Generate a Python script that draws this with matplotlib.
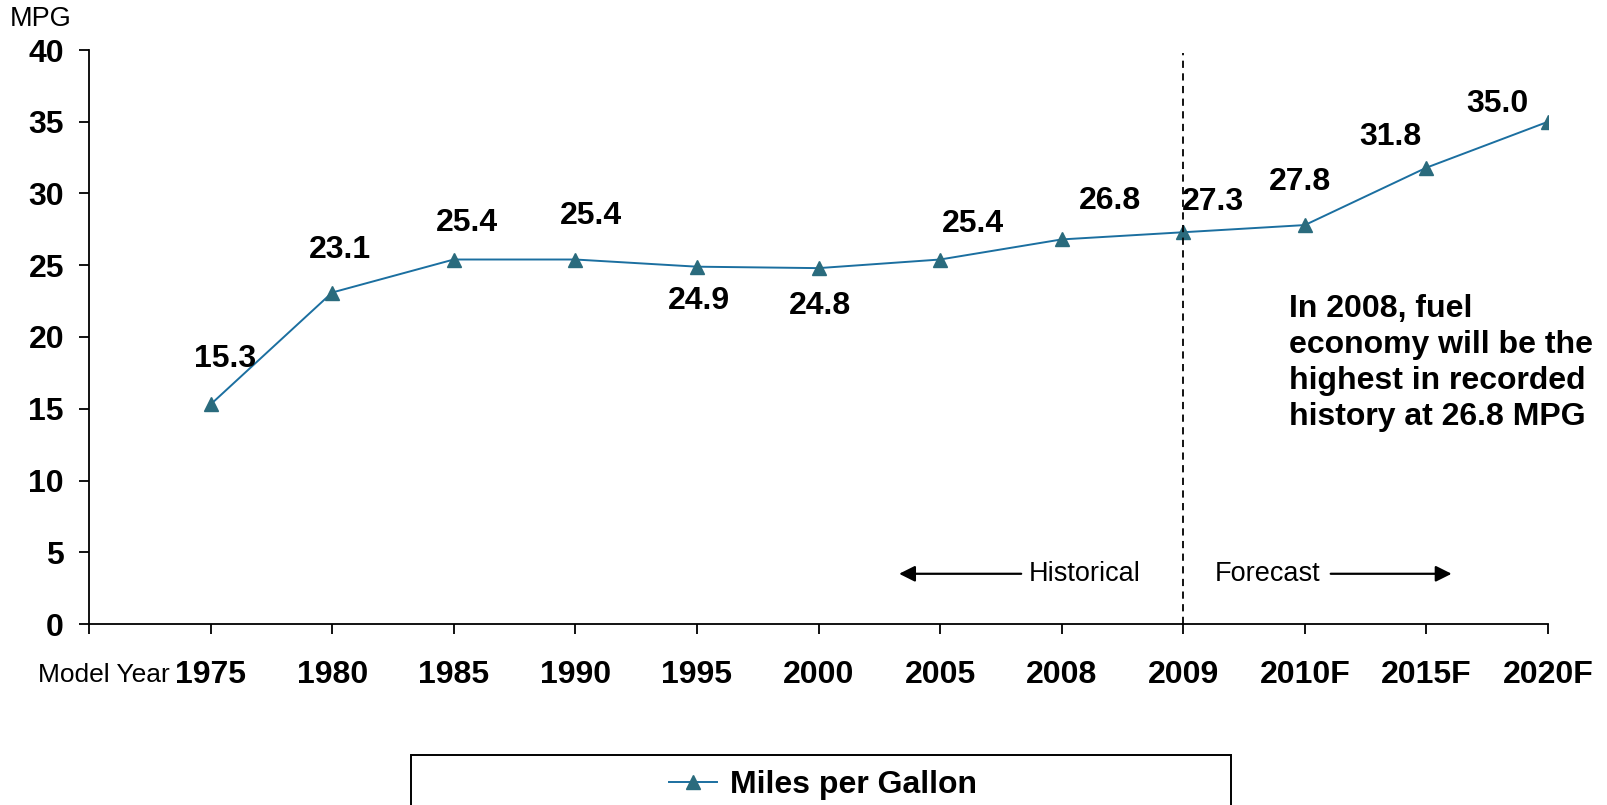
import matplotlib
matplotlib.use("Agg")
import matplotlib.pyplot as plt
from matplotlib.patches import Rectangle

plt.rcParams['font.family'] = ['Liberation Sans', 'DejaVu Sans']

# data
years = ["1975", "1980", "1985", "1990", "1995", "2000", "2005", "2008",
         "2009", "2010F", "2015F", "2020F"]
mpg = [15.3, 23.1, 25.4, 25.4, 24.9, 24.8, 25.4, 26.8, 27.3, 27.8, 31.8, 35.0]

# label offsets in pixels (dx, dy; dy up)
label_off = [(14, 45), (8, 43), (13, 37), (16, 44), (2, -34), (2, -38),
             (33, 36), (48, 38), (30, 30), (-5, 43), (-36, 31), (-51, 18)]

line_col = '#1B6FA0'
mark_col = '#2A6B7D'
big = 23

fig = plt.figure(figsize=(16.07, 8.05), dpi=100)
ax = fig.add_axes([89 / 1607, 1 - 624 / 805, (1548 - 89) / 1607, (624 - 50) / 805])

x = list(range(len(years)))
ax.plot(x, mpg, '-', color=line_col, lw=1.4, marker='^', markersize=10,
        markerfacecolor=mark_col, markeredgecolor=mark_col, label='Miles per Gallon')

for xi, v, (dx, dy) in zip(x, mpg, label_off):
    ax.annotate(f"{v:.1f}", (xi, v), xytext=(dx, dy), textcoords='offset pixels',
                ha='center', va='center', fontsize=big, fontweight='bold')

ax.set_xlim(-1, 11)
ax.set_ylim(0, 40)
ax.set_yticks(range(0, 41, 5))
ax.set_xticks(range(-1, 12))
ax.set_xticklabels([""] + years)
ax.tick_params(axis='both', length=7, width=1.3, direction='out', labelsize=big)
ax.tick_params(axis='x', pad=19)
ax.tick_params(axis='y', pad=11)
for lab in ax.get_xticklabels() + ax.get_yticklabels():
    lab.set_fontweight('bold')

for s in ['top', 'right']:
    ax.spines[s].set_visible(False)
for s in ['left', 'bottom']:
    ax.spines[s].set_linewidth(1.3)

# divider between historical and forecast
ax.axvline(8, ymin=0, ymax=0.995, color='black', lw=1.3, linestyle=(0, (4, 3)))

ax.text(8.87, 18.2, "In 2008, fuel\neconomy will be the\nhighest in recorded\nhistory at 26.8 MPG",
        ha='left', va='center', fontsize=big, fontweight='bold', linespacing=1.26)

arrow_kw = dict(arrowstyle='-|>', color='black', lw=1.6, mutation_scale=24)
ax.annotate("", xy=(5.64, 3.5), xytext=(6.69, 3.5), arrowprops=arrow_kw)
ax.text(7.19, 3.5, "Historical", ha='center', va='center', fontsize=19.5)
ax.text(8.69, 3.5, "Forecast", ha='center', va='center', fontsize=19.5)
ax.annotate("", xy=(10.23, 3.5), xytext=(9.19, 3.5), arrowprops=arrow_kw)

fig.text(10 / 1607, 1 - 19 / 805, "MPG", ha='left', va='center', fontsize=19.5)
fig.text(38 / 1607, 1 - 675 / 805, "Model Year", ha='left', va='center', fontsize=19)

# legend box (runs off the bottom of the figure)
fig.patches.append(Rectangle((411 / 1607, -0.05), 820 / 1607, 0.05 + 50 / 805,
                             transform=fig.transFigure, fill=False,
                             edgecolor='black', lw=1.4))
fig.legend(loc='center', bbox_to_anchor=(823 / 1607, 1 - 785 / 805), frameon=False,
           prop={'size': big, 'weight': 'bold'}, handlelength=1.5, handletextpad=0.4)

fig.savefig("out.png", dpi=100)
